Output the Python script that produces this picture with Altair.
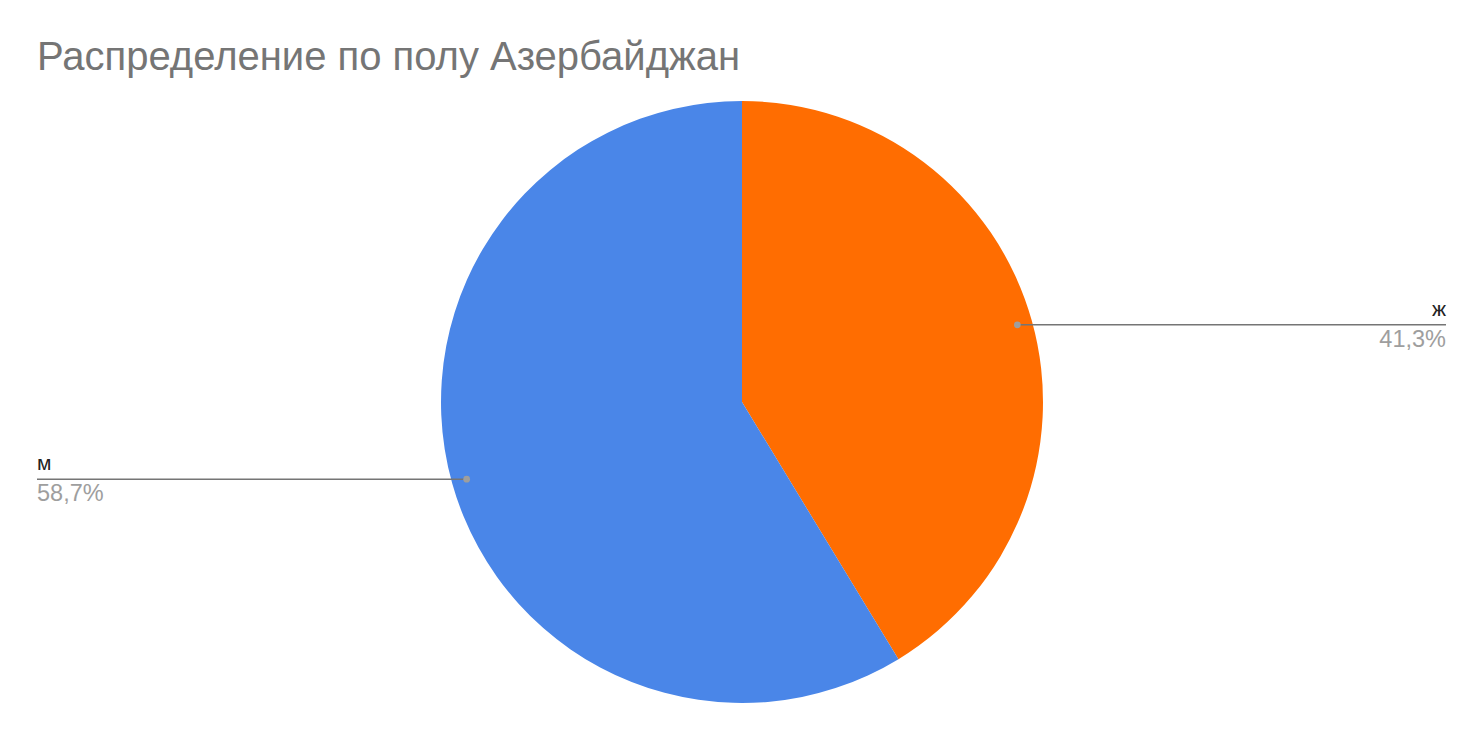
import altair as alt
import pandas as pd

categories = ["ж", "м"]
values = [41.3, 58.7]
pct_labels = ["41,3%", "58,7%"]
colors = ["#ff6d01", "#4a86e8"]
order = [0, 1]
sides = [1, -1]

title_text = "Распределение по полу Азербайджан"

df = pd.DataFrame({
    "cat": categories,
    "value": values,
    "pct": pct_labels,
    "ord": order,
    "side": sides,
})

W, H = 1468, 726
CX, CY, R = 734, 394, 301
LINE_R = 0.95 * R
LEFT_END, RIGHT_END = 29, 1438

base = alt.Chart(df)

pie = base.mark_arc(radius=R).encode(
    theta=alt.Theta("value:Q", stack=True),
    order=alt.Order("ord:Q"),
    color=alt.Color("cat:N", scale=alt.Scale(domain=categories, range=colors), legend=None),
    x=alt.value(CX),
    y=alt.value(CY),
)

geo = base.transform_window(
    cum="sum(value)", sort=[alt.SortField("ord")], frame=[None, 0]
).transform_joinaggregate(
    total="sum(value)"
).transform_calculate(
    mid="(datum.cum - datum.value/2) / datum.total * 2 * PI",
).transform_calculate(
    px=f"{CX} + {LINE_R} * sin(datum.mid)",
    py=f"{CY} - {LINE_R} * cos(datum.mid)",
    ex=f"datum.side > 0 ? {RIGHT_END} : {LEFT_END}",
)

lines = geo.mark_rule(color="#757575", strokeWidth=1.5).encode(
    x=alt.X("px:Q", scale=None, axis=None),
    x2="ex:Q",
    y=alt.Y("py:Q", scale=None, axis=None),
)

dots = geo.mark_circle(color="#9e9e9e", opacity=1, size=45).encode(
    x=alt.X("px:Q", scale=None, axis=None),
    y=alt.Y("py:Q", scale=None, axis=None),
)

right = geo.transform_filter("datum.side > 0")
left = geo.transform_filter("datum.side < 0")

CAT_FS, PCT_FS = 21, 23.5

cat_r = right.mark_text(align="right", baseline="bottom", dy=-5, fontSize=CAT_FS,
                        font="Liberation Sans", color="#222222").encode(
    x=alt.X("ex:Q", scale=None, axis=None), y=alt.Y("py:Q", scale=None, axis=None), text="cat:N")
pct_r = right.mark_text(align="right", baseline="top", dy=3, fontSize=PCT_FS,
                        font="Liberation Sans", color="#9e9e9e").encode(
    x=alt.X("ex:Q", scale=None, axis=None), y=alt.Y("py:Q", scale=None, axis=None), text="pct:N")
cat_l = left.mark_text(align="left", baseline="bottom", dy=-5, fontSize=CAT_FS,
                       font="Liberation Sans", color="#222222").encode(
    x=alt.X("ex:Q", scale=None, axis=None), y=alt.Y("py:Q", scale=None, axis=None), text="cat:N")
pct_l = left.mark_text(align="left", baseline="top", dy=3, fontSize=PCT_FS,
                       font="Liberation Sans", color="#9e9e9e").encode(
    x=alt.X("ex:Q", scale=None, axis=None), y=alt.Y("py:Q", scale=None, axis=None), text="pct:N")

title = alt.Chart(pd.DataFrame({"t": [title_text]})).mark_text(
    align="left", baseline="alphabetic", fontSize=40, font="Liberation Sans", color="#757575"
).encode(x=alt.value(29), y=alt.value(62), text="t:N")

chart = alt.layer(pie, lines, dots, cat_r, pct_r, cat_l, pct_l, title).properties(
    width=W, height=H, padding=0, autosize=alt.AutoSizeParams(type="none")
).configure_view(stroke=None)

chart.save("out.html", embed_options={"renderer": "svg", "actions": False})
